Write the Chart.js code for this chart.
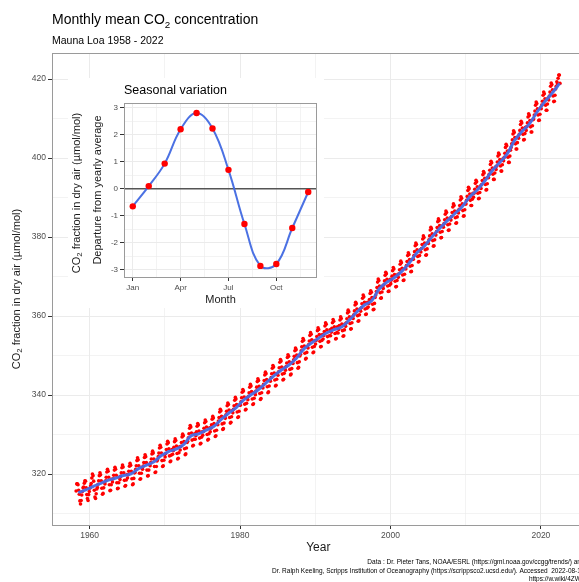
<!DOCTYPE html>
<html>
<head>
<meta charset="utf-8">
<title>Monthly mean CO2 concentration</title>
<script src="https://cdn.jsdelivr.net/npm/chart.js@4.4.0/dist/chart.umd.min.js"></script>
<style>
  html, body { margin: 0; padding: 0; background: #fff; }
  #wrap { position: relative; width: 579px; height: 582px; overflow: hidden; }
  #main { position: absolute; left: 0; top: 0; }
  #inset { position: absolute; left: 68px; top: 78px; }
</style>
</head>
<body>
<div id="wrap">
  <canvas id="main" width="600" height="582"></canvas>
  <canvas id="inset" width="256" height="230"></canvas>
</div>
<script>
// Mauna Loa monthly means, ppm (one row per year, Jan..Dec)
const years = [
  1958, 1959, 1960, 1961, 1962, 1963, 1964, 1965, 1966, 1967, 1968, 1969,
  1970, 1971, 1972, 1973, 1974, 1975, 1976, 1977, 1978, 1979,
  1980, 1981, 1982, 1983, 1984, 1985, 1986, 1987, 1988, 1989,
  1990, 1991, 1992, 1993, 1994, 1995, 1996, 1997, 1998, 1999,
  2000, 2001, 2002, 2003, 2004, 2005, 2006, 2007, 2008, 2009,
  2010, 2011, 2012, 2013, 2014, 2015, 2016, 2017, 2018, 2019,
  2020, 2021, 2022
];

const monthlyPpm = [
  [null, null, 315.7, 317.5, 317.5, 317.3, 315.9, 314.9, 313.2, 312.4, 313.3, 314.7],
  [315.6, 316.5, 316.7, 317.7, 318.3, 318.2, 316.5, 314.8, 313.8, 313.3, 314.8, 315.6],
  [316.4, 317.0, 317.6, 319.0, 320.0, 319.6, 318.2, 315.9, 314.2, 313.8, 315.0, 316.2],
  [316.6, 317.4, 318.3, 319.6, 320.3, 319.8, 318.3, 316.4, 314.9, 315.1, 316.5, 317.9],
  [317.5, 318.3, 319.2, 320.5, 321.2, 320.7, 319.2, 317.3, 315.8, 315.9, 317.3, 318.7],
  [318.0, 318.8, 319.7, 321.0, 321.7, 321.2, 319.7, 317.8, 316.3, 316.4, 317.8, 319.2],
  [318.6, 319.4, 320.3, 321.6, 322.3, 321.8, 320.3, 318.4, 316.9, 317.1, 318.5, 319.9],
  [319.0, 319.8, 320.7, 322.0, 322.7, 322.2, 320.7, 318.8, 317.3, 317.5, 318.9, 320.3],
  [320.4, 321.2, 322.1, 323.4, 324.1, 323.6, 322.1, 320.2, 318.7, 318.8, 320.2, 321.6],
  [321.2, 322.0, 322.9, 324.2, 324.9, 324.4, 322.9, 321.0, 319.5, 319.6, 321.0, 322.4],
  [322.1, 322.9, 323.8, 325.1, 325.8, 325.3, 323.8, 321.9, 320.4, 320.5, 321.9, 323.3],
  [323.6, 324.4, 325.3, 326.6, 327.3, 326.8, 325.3, 323.4, 321.9, 322.1, 323.5, 324.9],
  [324.3, 325.2, 326.2, 327.6, 328.3, 327.9, 326.4, 324.6, 323.1, 323.3, 324.8, 326.2],
  [325.0, 325.9, 326.8, 328.2, 328.9, 328.5, 327.1, 325.2, 323.8, 324.0, 325.4, 326.9],
  [326.1, 327.0, 328.0, 329.4, 330.1, 329.7, 328.2, 326.4, 324.9, 325.1, 326.6, 328.0],
  [328.3, 329.2, 330.2, 331.6, 332.3, 331.9, 330.4, 328.6, 327.1, 327.3, 328.8, 330.2],
  [328.8, 329.7, 330.7, 332.1, 332.8, 332.4, 330.9, 329.1, 327.6, 327.8, 329.3, 330.7],
  [329.8, 330.7, 331.6, 333.0, 333.7, 333.3, 331.9, 330.0, 328.6, 328.8, 330.2, 331.7],
  [330.7, 331.6, 332.5, 333.9, 334.6, 334.2, 332.8, 330.9, 329.5, 329.7, 331.1, 332.6],
  [332.5, 333.4, 334.3, 335.7, 336.4, 336.0, 334.6, 332.7, 331.3, 331.5, 332.9, 334.4],
  [334.1, 335.0, 335.9, 337.3, 338.0, 337.6, 336.2, 334.3, 332.9, 333.1, 334.5, 336.0],
  [335.5, 336.4, 337.3, 338.7, 339.4, 339.0, 337.6, 335.7, 334.3, 334.5, 335.9, 337.4],
  [337.4, 338.3, 339.3, 340.7, 341.4, 341.0, 339.5, 337.7, 336.2, 336.4, 337.9, 339.3],
  [338.8, 339.7, 340.6, 342.0, 342.7, 342.3, 340.9, 339.0, 337.6, 337.8, 339.2, 340.7],
  [340.1, 341.0, 342.0, 343.4, 344.1, 343.7, 342.2, 340.4, 338.9, 339.1, 340.6, 342.0],
  [341.8, 342.7, 343.7, 345.1, 345.8, 345.4, 343.9, 342.1, 340.6, 340.8, 342.3, 343.7],
  [343.5, 344.4, 345.4, 346.8, 347.5, 347.1, 345.6, 343.8, 342.3, 342.5, 344.0, 345.4],
  [345.0, 345.9, 346.9, 348.3, 349.0, 348.6, 347.1, 345.3, 343.8, 344.0, 345.5, 346.9],
  [346.3, 347.2, 348.1, 349.5, 350.2, 349.8, 348.4, 346.5, 345.1, 345.3, 346.7, 348.2],
  [348.0, 348.9, 349.8, 351.2, 351.9, 351.5, 350.1, 348.2, 346.8, 347.0, 348.4, 349.9],
  [350.3, 351.2, 352.2, 353.6, 354.3, 353.9, 352.4, 350.6, 349.1, 349.3, 350.8, 352.2],
  [351.9, 352.8, 353.7, 355.1, 355.8, 355.4, 354.0, 352.1, 350.7, 350.9, 352.3, 353.8],
  [352.9, 353.8, 354.8, 356.3, 357.0, 356.6, 355.3, 353.6, 352.2, 352.3, 353.8, 355.3],
  [354.2, 355.1, 356.1, 357.5, 358.3, 357.9, 356.5, 354.8, 353.4, 353.5, 355.0, 356.5],
  [355.0, 355.9, 356.9, 358.3, 359.1, 358.7, 357.3, 355.6, 354.2, 354.3, 355.8, 357.3],
  [355.7, 356.6, 357.6, 359.0, 359.8, 359.4, 358.0, 356.3, 354.9, 355.0, 356.5, 358.0],
  [357.4, 358.3, 359.3, 360.8, 361.5, 361.1, 359.8, 358.1, 356.7, 356.8, 358.3, 359.8],
  [359.4, 360.3, 361.3, 362.8, 363.5, 363.1, 361.8, 360.1, 358.7, 358.8, 360.3, 361.8],
  [361.2, 362.1, 363.1, 364.5, 365.3, 364.9, 363.5, 361.8, 360.4, 360.5, 362.0, 363.5],
  [362.3, 363.2, 364.2, 365.7, 366.4, 366.0, 364.7, 363.0, 361.6, 361.7, 363.2, 364.7],
  [365.3, 366.2, 367.2, 368.6, 369.4, 369.0, 367.6, 365.9, 364.5, 364.6, 366.1, 367.6],
  [367.0, 367.9, 368.9, 370.3, 371.1, 370.7, 369.3, 367.6, 366.2, 366.3, 367.8, 369.3],
  [368.2, 369.1, 370.1, 371.5, 372.3, 371.9, 370.5, 368.8, 367.4, 367.5, 369.0, 370.5],
  [369.8, 370.7, 371.7, 373.1, 373.9, 373.5, 372.1, 370.4, 369.0, 369.1, 370.6, 372.1],
  [371.9, 372.8, 373.8, 375.3, 376.0, 375.6, 374.3, 372.6, 371.2, 371.3, 372.8, 374.3],
  [374.4, 375.3, 376.3, 377.8, 378.5, 378.1, 376.8, 375.1, 373.7, 373.8, 375.3, 376.8],
  [376.2, 377.1, 378.1, 379.5, 380.3, 379.9, 378.5, 376.8, 375.4, 375.5, 377.0, 378.5],
  [378.4, 379.3, 380.3, 381.8, 382.5, 382.1, 380.8, 379.1, 377.7, 377.8, 379.3, 380.8],
  [380.5, 381.4, 382.4, 383.9, 384.6, 384.2, 382.9, 381.2, 379.8, 379.9, 381.4, 382.9],
  [382.5, 383.4, 384.4, 385.8, 386.6, 386.2, 384.8, 383.1, 381.7, 381.8, 383.3, 384.8],
  [384.3, 385.2, 386.2, 387.6, 388.4, 388.0, 386.6, 384.9, 383.5, 383.6, 385.1, 386.6],
  [386.1, 387.0, 388.0, 389.4, 390.2, 389.8, 388.4, 386.7, 385.3, 385.4, 386.9, 388.4],
  [388.4, 389.3, 390.3, 391.8, 392.6, 392.2, 390.9, 389.3, 388.0, 388.0, 389.6, 391.1],
  [390.1, 391.1, 392.1, 393.6, 394.4, 394.0, 392.7, 391.1, 389.7, 389.8, 391.3, 392.9],
  [392.3, 393.3, 394.3, 395.8, 396.6, 396.2, 394.9, 393.3, 391.9, 392.0, 393.5, 395.1],
  [395.0, 395.9, 396.9, 398.4, 399.2, 398.8, 397.5, 395.9, 394.6, 394.6, 396.2, 397.7],
  [397.1, 398.0, 399.0, 400.5, 401.3, 400.9, 399.6, 398.0, 396.7, 396.7, 398.3, 399.8],
  [399.3, 400.2, 401.2, 402.7, 403.5, 403.1, 401.8, 400.2, 398.9, 398.9, 400.5, 402.0],
  [402.7, 403.6, 404.6, 406.1, 406.9, 406.5, 405.2, 403.6, 402.3, 402.3, 403.9, 405.4],
  [405.0, 406.0, 407.0, 408.5, 409.3, 408.9, 407.6, 406.0, 404.6, 404.7, 406.2, 407.8],
  [407.0, 407.9, 408.9, 410.4, 411.2, 410.8, 409.5, 407.9, 406.6, 406.6, 408.2, 409.7],
  [409.9, 410.9, 411.9, 413.4, 414.2, 413.8, 412.5, 410.9, 409.5, 409.6, 411.1, 412.7],
  [412.5, 413.4, 414.4, 415.9, 416.7, 416.3, 415.0, 413.4, 412.1, 412.1, 413.7, 415.2],
  [414.7, 415.7, 416.7, 418.2, 419.0, 418.6, 417.3, 415.7, 414.3, 414.4, 415.9, 417.5],
  [418.2, 419.3, 418.8, 420.2, 421.0, 421.0, 418.9, null, null, null, null, null]
];

// smoothed trend (blue line), yearly means
const annualMeanPpm = [
  315.3, 315.98, 316.91, 317.64, 318.45, 318.99, 319.62, 320.04, 321.37, 322.18, 323.05, 324.62,
  325.68, 326.32, 327.46, 329.68, 330.19, 331.13, 332.03, 333.84, 335.41, 336.84,
  338.76, 340.12, 341.48, 343.15, 344.87, 346.35, 347.61, 349.31, 351.69, 353.20,
  354.45, 355.70, 356.54, 357.21, 358.96, 360.97, 362.74, 363.88, 366.84, 368.54,
  369.71, 371.32, 373.45, 375.98, 377.70, 379.98, 382.09, 384.02, 385.83, 387.64,
  390.10, 391.85, 394.06, 396.74, 398.81, 401.01, 404.41, 406.76, 408.72, 411.66,
  414.24, 416.45, 418.9
];

// inset: seasonal departure from yearly average
const months = ['Jan', 'Feb', 'Mar', 'Apr', 'May', 'Jun', 'Jul', 'Aug', 'Sep', 'Oct', 'Nov', 'Dec'];
const seasonalDeparture = [-0.65, 0.1, 0.93, 2.2, 2.8, 2.23, 0.7, -1.3, -2.85, -2.78, -1.45, -0.12];

// tick positions (major ones get labels)
const yearTicks = [1960, 1970, 1980, 1990, 2000, 2010, 2020];
const ppmTicks = [310, 320, 330, 340, 350, 360, 370, 380, 390, 400, 410, 420];
const monthTicks = [1, 2.5, 4, 5.5, 7, 8.5, 10, 11.5];
const departureTicks = [-3, -2.5, -2, -1.5, -1, -0.5, 0, 0.5, 1, 1.5, 2, 2.5, 3];

const FONT = '"Liberation Sans", Arial, Helvetica, sans-serif';
const GRID = '#ebebeb';
const TICK_TEXT = '#4d4d4d';
const BORDER = '#9a9a9a';

// draws text made of [string, isSubscript] pieces, e.g. CO2 with a real subscript
function drawRich(ctx, parts, x, y, size, align) {
  const subSize = size * 0.7;
  let total = 0;
  parts.forEach(([t, sub]) => {
    ctx.font = (sub ? subSize : size) + 'px ' + FONT;
    total += ctx.measureText(t).width;
  });
  let cx = x;
  if (align === 'center') cx = x - total / 2;
  if (align === 'right') cx = x - total;
  ctx.textAlign = 'left';
  parts.forEach(([t, sub]) => {
    ctx.font = (sub ? subSize : size) + 'px ' + FONT;
    ctx.fillText(t, cx, sub ? y + size * 0.28 : y);
    cx += ctx.measureText(t).width;
  });
}

function drawRotated(ctx, parts, cx, cy, size) {
  ctx.save();
  ctx.translate(cx, cy);
  ctx.rotate(-Math.PI / 2);
  ctx.textBaseline = 'middle';
  drawRich(ctx, parts, 0, 0, size, 'center');
  ctx.restore();
}

const co2Label = [['CO', false], ['2', true], [' fraction in dry air (\u00b5mol/mol)', false]];

function isMajorYear(v) { return v % 20 === 0; }
function isMajorPpm(v) { return v % 20 === 0; }

const mainDecor = {
  id: 'mainDecor',
  beforeDraw(chart) {
    const ctx = chart.ctx;
    ctx.save();
    ctx.fillStyle = '#fff';
    ctx.fillRect(0, 0, chart.width, chart.height);
    ctx.restore();
  },
  afterDraw(chart) {
    const ctx = chart.ctx;
    const a = chart.chartArea;
    ctx.save();
    ctx.strokeStyle = BORDER;
    ctx.lineWidth = 1;
    ctx.strokeRect(a.left + 0.5, a.top + 0.5, a.right - a.left, a.bottom - a.top);

    ctx.fillStyle = '#000';
    ctx.textBaseline = 'alphabetic';
    drawRich(ctx, [['Monthly mean CO', false], ['2', true], [' concentration', false]], a.left, 24, 14, 'left');
    drawRich(ctx, [['Mauna Loa 1958 - 2022', false]], a.left, 43.5, 10.5, 'left');

    ctx.fillStyle = '#1a1a1a';
    drawRotated(ctx, co2Label, 17, (a.top + a.bottom) / 2, 11);
    ctx.textBaseline = 'middle';
    drawRich(ctx, [['Year', false]], (a.left + a.right) / 2, 548, 12, 'center');

    ctx.fillStyle = '#000';
    ctx.textBaseline = 'alphabetic';
    const capSize = 6.5;
    drawRich(ctx, [['Data : Dr. Pieter Tans, NOAA/ESRL (https://gml.noaa.gov/ccgg/trends/) and', false]], a.right, 564, capSize, 'right');
    drawRich(ctx, [['Dr. Ralph Keeling, Scripps Institution of Oceanography (https://scrippsco2.ucsd.edu/). Accessed  2022-08-15', false]], a.right, 572.5, capSize, 'right');
    drawRich(ctx, [['https://w.wiki/4ZWn', false]], a.right, 581, capSize, 'right');
    ctx.restore();
  }
};

const monthlyPoints = [];
years.forEach((y, i) => {
  monthlyPpm[i].forEach((v, m) => {
    if (v !== null) monthlyPoints.push({ x: y + (m + 0.5) / 12, y: v });
  });
});
const trendPoints = years.map((y, i) => ({ x: y + 0.5, y: annualMeanPpm[i] }));

new Chart(document.getElementById('main'), {
  type: 'scatter',
  data: {
    datasets: [
      {
        label: 'Trend',
        data: trendPoints,
        showLine: true,
        borderColor: 'rgba(70, 108, 228, 0.95)',
        borderWidth: 3,
        pointRadius: 0,
        tension: 0.4,
        fill: false
      },
      {
        label: 'Monthly mean',
        data: monthlyPoints,
        backgroundColor: '#ff0000',
        borderWidth: 0,
        pointRadius: 1.8
      }
    ]
  },
  options: {
    responsive: false,
    animation: false,
    events: [],
    layout: { padding: { top: 53, right: 15.5, left: 0, bottom: 0 } },
    plugins: { legend: { display: false }, tooltip: { enabled: false } },
    scales: {
      x: {
        type: 'linear',
        min: 1955,
        max: 2025.8,
        afterBuildTicks: (s) => { s.ticks = yearTicks.map((v) => ({ value: v })); },
        afterFit: (s) => { s.height = 57; },
        ticks: {
          autoSkip: false,
          maxRotation: 0,
          padding: 2,
          color: TICK_TEXT,
          font: { family: FONT, size: 8.5 },
          callback: (v) => (isMajorYear(v) ? String(v) : '')
        },
        grid: {
          color: GRID,
          lineWidth: (c) => (c.tick && isMajorYear(c.tick.value) ? 1 : 0.6),
          tickLength: 4,
          tickColor: (c) => (c.tick && isMajorYear(c.tick.value) ? '#333' : 'rgba(0,0,0,0)')
        },
        border: { display: false }
      },
      y: {
        type: 'linear',
        min: 307.1,
        max: 426.6,
        afterBuildTicks: (s) => { s.ticks = ppmTicks.map((v) => ({ value: v })); },
        afterFit: (s) => { s.width = 52; },
        ticks: {
          autoSkip: false,
          padding: 2,
          color: TICK_TEXT,
          font: { family: FONT, size: 8.5 },
          callback: (v) => (isMajorPpm(v) ? String(v) : '')
        },
        grid: {
          color: GRID,
          lineWidth: (c) => (c.tick && isMajorPpm(c.tick.value) ? 1 : 0.6),
          tickLength: 4,
          tickColor: (c) => (c.tick && isMajorPpm(c.tick.value) ? '#333' : 'rgba(0,0,0,0)')
        },
        border: { display: false }
      }
    }
  },
  plugins: [mainDecor]
});

// ---- inset: seasonal variation ----
const insetDecor = {
  id: 'insetDecor',
  beforeDraw(chart) {
    const ctx = chart.ctx;
    ctx.save();
    ctx.fillStyle = '#fff';
    ctx.fillRect(0, 0, chart.width, chart.height);
    ctx.restore();
  },
  beforeDatasetsDraw(chart) {
    const ctx = chart.ctx;
    const a = chart.chartArea;
    const y0 = chart.scales.y.getPixelForValue(0);
    ctx.save();
    ctx.strokeStyle = '#555';
    ctx.lineWidth = 1.5;
    ctx.beginPath();
    ctx.moveTo(a.left, y0);
    ctx.lineTo(a.right, y0);
    ctx.stroke();
    ctx.restore();
  },
  afterDraw(chart) {
    const ctx = chart.ctx;
    const a = chart.chartArea;
    ctx.save();
    ctx.strokeStyle = BORDER;
    ctx.lineWidth = 1;
    ctx.strokeRect(a.left + 0.5, a.top + 0.5, a.right - a.left - 1, a.bottom - a.top);

    ctx.fillStyle = '#000';
    ctx.textBaseline = 'alphabetic';
    drawRich(ctx, [['Seasonal variation', false]], a.left, 16.3, 12.5, 'left');

    ctx.fillStyle = '#1a1a1a';
    const cy = (a.top + a.bottom) / 2;
    drawRotated(ctx, co2Label, 8.7, cy + 3, 11);
    drawRotated(ctx, [['Departure from yearly average', false]], 30.3, cy, 11);
    ctx.textBaseline = 'middle';
    drawRich(ctx, [['Month', false]], (a.left + a.right) / 2, 222, 11, 'center');
    ctx.restore();
  }
};

new Chart(document.getElementById('inset'), {
  type: 'scatter',
  data: {
    datasets: [{
      label: 'Seasonal variation',
      data: months.map((m, i) => ({ x: i + 1, y: seasonalDeparture[i] })),
      showLine: true,
      borderColor: 'rgba(65, 105, 225, 0.95)',
      borderWidth: 2,
      tension: 0.4,
      pointRadius: 3.2,
      pointBackgroundColor: '#ff0000',
      pointBorderWidth: 0
    }]
  },
  options: {
    responsive: false,
    animation: false,
    events: [],
    layout: { padding: { top: 25, right: 7, left: 0, bottom: 0 } },
    plugins: { legend: { display: false }, tooltip: { enabled: false } },
    scales: {
      x: {
        type: 'linear',
        min: 0.45,
        max: 12.55,
        afterBuildTicks: (s) => { s.ticks = monthTicks.map((v) => ({ value: v })); },
        afterFit: (s) => { s.height = 31; },
        ticks: {
          autoSkip: false,
          maxRotation: 0,
          padding: 2,
          color: TICK_TEXT,
          font: { family: FONT, size: 8 },
          callback: (v) => (Number.isInteger(v) ? months[v - 1] : '')
        },
        grid: {
          color: GRID,
          lineWidth: (c) => (c.tick && Number.isInteger(c.tick.value) ? 1 : 0.6),
          tickLength: 4,
          tickColor: (c) => (c.tick && Number.isInteger(c.tick.value) ? '#333' : 'rgba(0,0,0,0)')
        },
        border: { display: false }
      },
      y: {
        type: 'linear',
        min: -3.26,
        max: 3.17,
        afterBuildTicks: (s) => { s.ticks = departureTicks.map((v) => ({ value: v })); },
        afterFit: (s) => { s.width = 56; },
        ticks: {
          autoSkip: false,
          padding: 2,
          color: TICK_TEXT,
          font: { family: FONT, size: 8 },
          callback: (v) => (Number.isInteger(v) ? String(v) : '')
        },
        grid: {
          color: GRID,
          lineWidth: (c) => (c.tick && Number.isInteger(c.tick.value) ? 1 : 0.6),
          tickLength: 4,
          tickColor: (c) => (c.tick && Number.isInteger(c.tick.value) ? '#333' : 'rgba(0,0,0,0)')
        },
        border: { display: false }
      }
    }
  },
  plugins: [insetDecor]
});
</script>
</body>
</html>
